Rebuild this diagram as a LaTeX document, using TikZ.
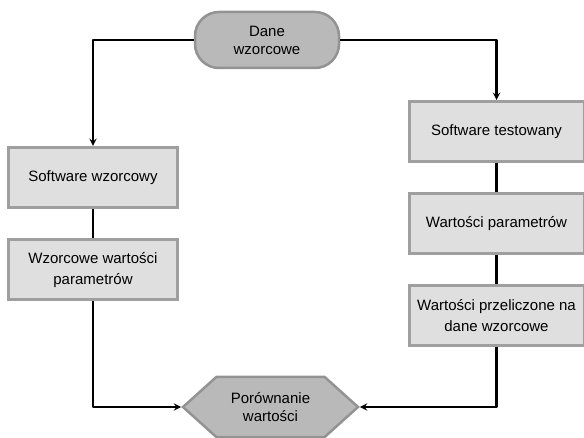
\documentclass[tikz,border=0pt]{standalone}
\usepackage{fontspec}
\setmainfont{Liberation Sans}
\usepackage{xcolor}
\usetikzlibrary{shapes.geometric}
\usetikzlibrary{shapes.symbols}
\usetikzlibrary{arrows}

\begin{document}
\begin{tikzpicture}[x=1pt, y=-1pt,
        krok/.style={rectangle, fill=gray!25, draw=gray!75, line width=3pt,
            minimum width=169pt, minimum height=60pt, inner sep=0pt,
            align=center, font=\fontsize{15}{21}\selectfont},
        dane/.style={rectangle, rounded corners=24pt, fill=gray!55, draw=gray!85,
            line width=2.5pt, minimum width=144pt, minimum height=56pt,
            align=center, font=\fontsize{15}{18}\selectfont},
        wynik/.style={signal, signal to=west and east, signal pointer angle=84,
            fill=gray!55, draw=gray!85, line width=2.5pt, minimum width=175pt,
            minimum height=60pt, inner sep=0pt, align=center,
            font=\fontsize{15}{18}\selectfont},
        linia/.style={line width=2.2pt, line join=round}]
        \useasboundingbox (0, 0) rectangle (584, 438);

        \node[dane] (wz) at (267, 40) {Dane\\wzorcowe};

        \node[krok] (sw) at (93, 177.5) {Software wzorcowy};
        \node[krok] (wp) at (93, 270) {Wzorcowe warto\'sci\\parametr\'ow};

        \node[krok, minimum width=175pt] (st) at (496.5, 131.5) {Software testowany};
        \node[krok, minimum width=175pt] (wpar) at (496.5, 224) {Warto\'sci parametr\'ow};
        \node[krok, minimum width=175pt] (wprz) at (496.5, 316) {Warto\'sci przeliczone na\\dane wzorcowe};

        \node[wynik] (por) at (270.5, 407) {Por\'ownanie\\warto\'sci};

        \draw[linia, -stealth] (wz.west) -| (sw.north);
        \draw[linia, -stealth] (wz.east) -| (st.north);
        \draw[linia] (sw.south) -- (wp.north);
        \draw[linia, -stealth] (wp.south) |- (por.west);
        \draw[linia] (st.south) -- (wpar.north);
        \draw[linia] (wpar.south) -- (wprz.north);
        \draw[linia, -stealth] (wprz.south) |- (por.east);
    \end{tikzpicture}
\end{document}
